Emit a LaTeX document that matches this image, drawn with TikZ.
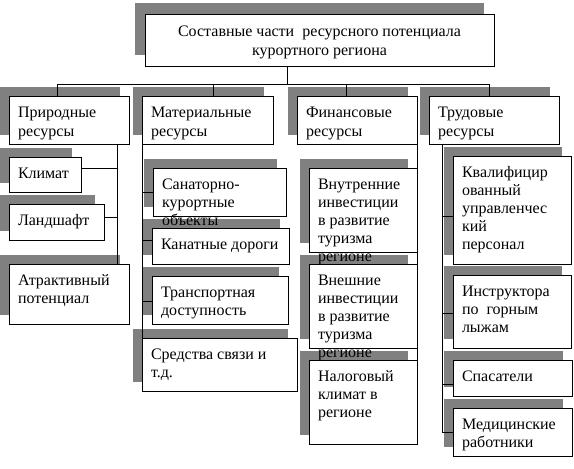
\documentclass[tikz,border=0pt]{standalone}
\usepackage{fontspec}
\setmainfont{Liberation Serif}
\newfontfamily\lserif{Liberation Serif}
\pgfdeclarelayer{bg}
\pgfdeclarelayer{shadow}
\pgfdeclarelayer{lines}
\pgfsetlayers{bg,shadow,lines,main}
\definecolor{shadowgray}{RGB}{128,128,128}
\newcommand\mlskip{18.2pt}
\newcommand\ml[1]{\vtop{\baselineskip=\mlskip\lineskiplimit=-50pt\halign{##\hfil\cr#1\crcr}}}
\newcommand\mlc[1]{\vtop{\baselineskip=\mlskip\lineskiplimit=-50pt\halign{\hfil##\hfil\cr#1\crcr}}}
\tikzset{
  wbox/.style={draw=black, fill=white, line width=0.9pt, inner sep=0pt, outer sep=0pt, rectangle},
  btext/.style={inner sep=0pt, outer sep=0pt, font=\lserif\fontsize{16}{18.2}\selectfont},
  conn/.style={draw=black, line width=0.9pt}
}
\newcommand\obox[6]{%
  \begin{pgfonlayer}{shadow}\fill[shadowgray] (#2-9,#3-9) rectangle (#4-9,#5-9);\end{pgfonlayer}
  \node[wbox, minimum width={#4-#2}, minimum height={#5-#3}, anchor=north west] (#1) at (#2,#3) {};
  \node[btext, anchor=base west] (#1-t) at (#2+9,#3+21) {\ml{#6}};
}
\begin{document}
\begin{tikzpicture}[x=1pt,y=-1pt]
\begin{pgfonlayer}{bg}
\fill[white] (0,0) rectangle (574,469);
\end{pgfonlayer}
\useasboundingbox (0,0) rectangle (574,469);

% top box
\begin{pgfonlayer}{shadow}\fill[shadowgray] (135,3) rectangle (484,55);\end{pgfonlayer}
\node[wbox, minimum width=349, minimum height=52, anchor=north west] (top) at (145,14) {};
\node[btext, anchor=base] (top-t) at (319.5,36) {\renewcommand\mlskip{19.5pt}\mlc{Составные части\ \ ресурсного потенциала\cr курортного региона}};

% level 1
\renewcommand\mlskip{19pt}
\obox{prir}{9}{96}{129}{144}{Природные\cr ресурсы}
\obox{mat}{142}{96}{273}{144}{Материальные\cr ресурсы}
\obox{fin}{297}{96}{417}{144}{Финансовые\cr ресурсы}
\obox{trud}{429}{96}{559}{144}{Трудовые\cr ресурсы}

\renewcommand\mlskip{18.2pt}
% natural
\obox{klimat}{9}{157}{81}{192}{Климат}
\obox{land}{9}{204}{104}{240}{Ландшафт}
\obox{attr}{9}{264}{129}{324}{Атрактивный\cr потенциал}
% material
\obox{sanat}{153}{168}{286}{216}{Санаторно-\cr курортные\cr объекты}
\obox{kanat}{152}{228}{289}{264}{Канатные дороги}
\obox{trans}{152}{276}{288}{324}{Транспортная\cr доступность}
\obox{sred}{142}{338}{297}{391}{Средства связи и\cr т.д.}
% financial
\obox{vnutr}{309}{168}{417}{252}{Внутренние\cr инвестиции\cr в развитие\cr туризма\cr регионе}
\obox{vnesh}{309}{264}{417}{348}{Внешние\cr инвестиции\cr в развитие\cr туризма\cr регионе}
\obox{nalog}{309}{360}{417}{444}{Налоговый\cr климат в\cr регионе}
% labour
\obox{kval}{453}{156}{571}{264}{Квалифицир\cr ованный\cr управленчес\cr кий\cr персонал}
\obox{instr}{453}{275}{571}{348}{Инструктора\cr по\ \ горным\cr лыжам}
\obox{spas}{453}{360}{572}{396}{Спасатели}
\obox{med}{453}{408}{572}{456}{Медицинские\cr работники}

\begin{pgfonlayer}{lines}
\coordinate (hub) at (287,84);
\coordinate (bl) at (57,84);
\coordinate (dm) at (213,84);
\coordinate (df) at (346,84);
\coordinate (br) at (489,84);
\draw[conn] (top.south -| hub) -- (hub);
\draw[conn] (bl) -- (br);
\draw[conn] (bl) -- (bl |- prir.north);
\draw[conn] (dm) -- (dm |- mat.north);
\draw[conn] (df) -- (df |- fin.north);
\draw[conn] (br) -- (br |- trud.north);
% natural bus
\coordinate (pb) at (117,0);
\draw[conn] (pb |- prir.south) -- (pb |- attr.north);
\draw[conn] (klimat.east |- 0,168) -- (pb |- 0,168);
\draw[conn] (land.east |- 0,217) -- (pb |- 0,217);
% material bus
\draw[conn] (mat.south west) -- (mat.south west |- sred.north);
\draw[conn] (mat.west |- 0,192) -- (sanat.west |- 0,192);
\draw[conn] (mat.west |- 0,240) -- (kanat.west |- 0,240);
\draw[conn] (mat.west |- 0,301) -- (trans.west |- 0,301);
% financial bus
\draw[conn] (fin.south east) -- (nalog.north east);
% labour bus
\coordinate (tb) at (442,0);
\draw[conn] (tb |- trud.south) -- (tb |- 0,432);
\draw[conn] (tb |- 0,216) -- (kval.west |- 0,216);
\draw[conn] (tb |- 0,313) -- (instr.west |- 0,313);
\draw[conn] (tb |- 0,384) -- (spas.west |- 0,384);
\draw[conn] (tb |- 0,432) -- (med.west |- 0,432);
\end{pgfonlayer}
\end{tikzpicture}
\end{document}
